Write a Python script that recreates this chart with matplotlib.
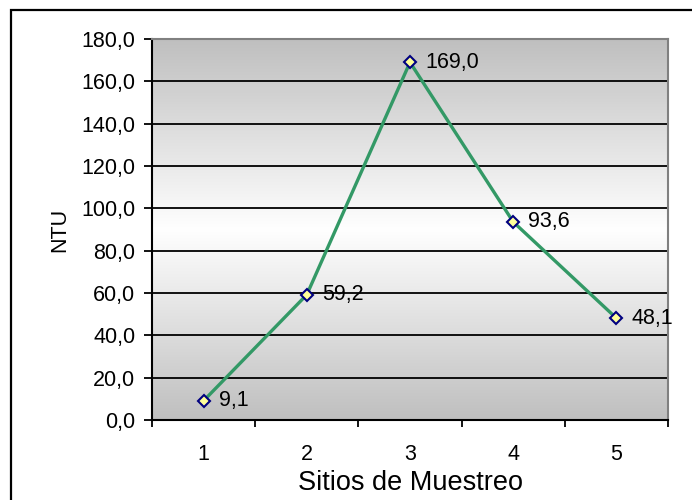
import numpy as np
import matplotlib.pyplot as plt
from matplotlib.patches import Rectangle

# Turbidez por sitio de muestreo
sitios = ["1", "2", "3", "4", "5"]
ntu = [9.1, 59.2, 169.0, 93.6, 48.1]
yticks = [0, 20, 40, 60, 80, 100, 120, 140, 160, 180]

plt.rcParams['font.family'] = ['Liberation Sans', 'DejaVu Sans']

fig = plt.figure(figsize=(6.92, 5.0), dpi=100)
ax = fig.add_axes([152 / 692, 80 / 500, 516 / 692, 381 / 500])

# marco exterior del grafico (se sale por la derecha y abajo)
frame = Rectangle((11 / 692, -0.1), 1.2, (490 / 500) + 0.1, transform=fig.transFigure,
                  fill=False, edgecolor='black', linewidth=1.6, clip_on=False)
fig.patches.append(frame)

x = np.arange(1, len(sitios) + 1)
ax.set_xlim(0.5, len(sitios) + 0.5)
ax.set_ylim(0, 180)

# fondo degradado gris-blanco-gris
t = np.linspace(0, 1, 256)
shade = 1 - np.abs(t - 0.5) * 2
grad = 0.75 + 0.25 * shade
img = np.dstack([grad, grad, grad]).reshape(256, 1, 3)
ax.imshow(img, extent=[0.5, len(sitios) + 0.5, 0, 180], aspect='auto', zorder=0,
          interpolation='bilinear')

for yv in yticks[1:-1]:
    ax.axhline(yv, color='black', linewidth=1.3, zorder=1)

ax.plot(x, ntu, color='#339966', linewidth=2.4, zorder=3,
        marker='D', markersize=6.5, markerfacecolor='#ffff99',
        markeredgecolor='#000080', markeredgewidth=1.5)

for xi, v in zip(x, ntu):
    ax.annotate(f"{v:.1f}".replace('.', ','), (xi, v), xytext=(11, 0),
                textcoords='offset points', ha='left', va='center',
                fontsize=15.5, zorder=4, annotation_clip=False)

ax.set_yticks(yticks)
ax.set_yticklabels([f"{v:.1f}".replace('.', ',') for v in yticks], fontsize=15.5)
ax.tick_params(axis='y', direction='out', length=6, width=1.3, pad=6)

# etiquetas en el centro, marcas entre categorias
ax.set_xticks(x)
ax.set_xticklabels(sitios, fontsize=15.5)
ax.tick_params(axis='x', which='major', length=0, pad=17)
ax.set_xticks(np.arange(0.5, len(sitios) + 1), minor=True)
ax.tick_params(axis='x', which='minor', direction='out', length=5, width=1.3)

ax.spines['left'].set_linewidth(1.5)
ax.spines['bottom'].set_linewidth(1.5)
for s in ('top', 'right'):
    ax.spines[s].set_color('#808080')
    ax.spines[s].set_linewidth(1.5)

ax.set_xlabel("Sitios de Muestreo", fontsize=19.5, labelpad=4)
ax.set_ylabel("NTU", fontsize=15.5, labelpad=8)

fig.savefig("out.png", dpi=100)
